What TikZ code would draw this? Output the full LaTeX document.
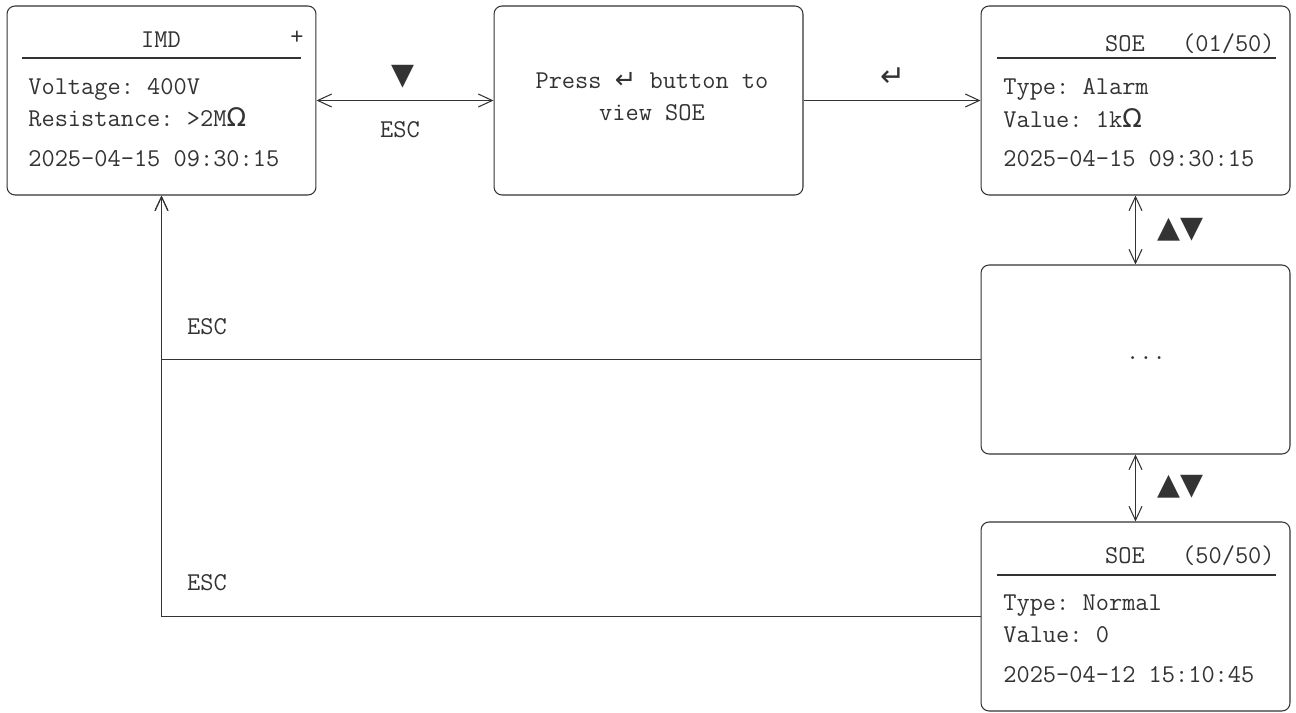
\documentclass[tikz,border=0pt]{standalone}
\usepackage{fontspec}
\newfontfamily\symfont{DejaVu Sans}
\usepackage{tikz}
\usetikzlibrary{arrows.meta}
\usepackage{xcolor}
\definecolor{ink}{HTML}{333333}
\frenchspacing

\begin{document}
\begin{tikzpicture}[x=0.02cm, y=-0.02cm,
	every node/.style={text=ink, inner sep=0pt, font=\fontsize{14.6}{18.4}\selectfont\ttfamily},
	screen/.style={draw=ink, line width=0.6pt, rounded corners=1.6mm, minimum width=6.18cm, minimum height=3.78cm},
	link/.style={draw=ink, line width=0.6pt},
	keys/.style={font=\fontsize{17}{20}\selectfont\symfont},
	>={Straight Barb[length=2.8mm, width=2.6mm]}]
	\useasboundingbox (0,0) rectangle (1296,713);

	% screens
	\node[screen] (imd)    at (161.5,100.5)  {};
	\node[screen] (press)  at (648.5,100.5)  {};
	\node[screen] (soe1)   at (1135.5,100.5) {};
	\node[screen] (soemid) at (1135.5,359.5) {};
	\node[screen] (soe50)  at (1135.5,616.5) {};

	% main screen
	\node[anchor=base] (imdtitle) at (161,48) {IMD};
	\node[anchor=base] (imdplus)  at (297,45) {+};
	\draw[link] (22,58) -- (301,58);
	\node[anchor=base west] (volt)    at (28,95)  {Voltage: 400V};
	\node[anchor=base west] (res)     at (28,127) {Resistance: >2M{\symfont Ω}};
	\node[anchor=base west] (imdtime) at (28,167) {2025-04-15 09:30:15};

	% hint screen
	\node[anchor=base, align=center] (hint) at (652,121) {Press {\symfont ↵} button to\\view SOE};

	% first record
	\node[anchor=base]      (soe1title) at (1125,52) {SOE};
	\node[anchor=base east] (soe1num)   at (1275,52) {(01/50)};
	\draw[link] (997,58) -- (1276,58);
	\node[anchor=base west] (soe1type)  at (1003,95)  {Type: Alarm};
	\node[anchor=base west] (soe1val)   at (1003,128) {Value: 1k{\symfont Ω}};
	\node[anchor=base west] (soe1time)  at (1003,167) {2025-04-15 09:30:15};

	% middle records
	\node (dots) at (1146,358) {...};

	% last record
	\node[anchor=base]      (soe50title) at (1125,563) {SOE};
	\node[anchor=base east] (soe50num)   at (1275,563) {(50/50)};
	\draw[link] (997,575) -- (1276,575);
	\node[anchor=base west] (soe50type)  at (1003,610) {Type: Normal};
	\node[anchor=base west] (soe50val)   at (1003,642) {Value: 0};
	\node[anchor=base west] (soe50time)  at (1003,682) {2025-04-12 15:10:45};

	% connectors
	\draw[link, <->] (imd) -- (press);
	\node[keys] (down) at (403,77) {▼};
	\node (esc1) at (400,130) {ESC};

	\draw[link, ->] (press) -- (soe1);
	\node[keys] (enter) at (893,77) {↵};

	\draw[link, <->] (soe1) -- (soemid);
	\node[keys] (updn1) at (1180,230) {▲▼};
	\draw[link, <->] (soemid) -- (soe50);
	\node[keys] (updn2) at (1180,487) {▲▼};

	\draw[link, ->] (soemid) -| (imd);
	\draw[link, ->] (soe50) -| (imd);
	\node (esc2) at (207,327) {ESC};
	\node (esc3) at (207,583) {ESC};
\end{tikzpicture}
\end{document}
